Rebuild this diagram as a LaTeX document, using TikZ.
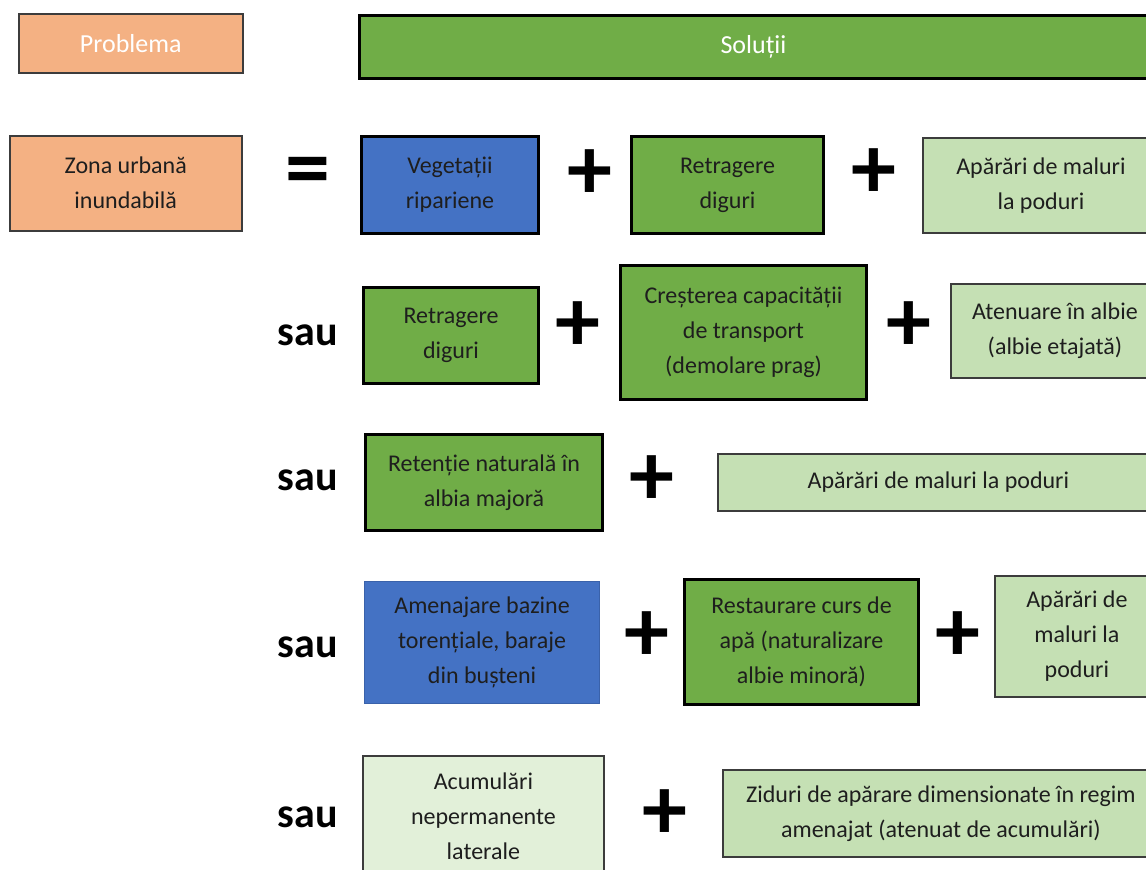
\documentclass[tikz,border=0pt]{standalone}
\usepackage{fontspec}
\setmainfont{Carlito}
\definecolor{orangeF}{HTML}{F4B183}
\definecolor{greenD}{HTML}{70AD47}
\definecolor{blueB}{HTML}{4472C4}
\definecolor{blueE}{HTML}{3A62AA}
\definecolor{greenL}{HTML}{C5E0B4}
\definecolor{greenXL}{HTML}{E2F0D9}
\definecolor{edgeG}{HTML}{3C3C3C}
\definecolor{txt}{HTML}{1E1E1E}
\tikzset{
  box/.style={draw, align=center, inner sep=0pt, anchor=north west,
    font=\fontsize{24}{35}\selectfont, text=txt},
  orangebox/.style={box, fill=orangeF, draw=edgeG, line width=1.5pt},
  headbox/.style={orangebox, font=\fontsize{26}{35}\selectfont},
  darkbox/.style={box, fill=greenD, draw=black, line width=3pt},
  soltitle/.style={darkbox, font=\fontsize{26}{35}\selectfont, text=white},
  bluebox/.style={box, fill=blueB, draw=black, line width=3pt},
  bluethin/.style={box, fill=blueB, draw=blueE, line width=1.2pt},
  lightbox/.style={box, fill=greenL, draw=edgeG, line width=1.8pt},
  palebox/.style={box, fill=greenXL, draw=edgeG, line width=1.8pt},
  opsign/.style={font=\fontsize{90}{90}\bfseries\selectfont, inner sep=0pt, text=black},
  orword/.style={font=\fontsize{42}{42}\bfseries\selectfont, inner sep=0pt, text=black},
}
\begin{document}
\begin{tikzpicture}[x=1pt, y=-1pt]
\useasboundingbox (0,0) rectangle (1146,870);
\clip (0,0) rectangle (1146,870);
% header
\node[headbox, text=white, minimum width=224pt, minimum height=59pt] (prob) at (18,13) {Problema};
\node[soltitle, minimum width=800pt, minimum height=63pt] (sol) at (358,14) {\hspace*{-12pt}Soluții};
% row 1
\node[orangebox, minimum width=232pt, minimum height=95pt] (zona) at (9,135) {Zona urbană\\inundabilă};
\node[opsign] (eq) at (308,177) {=};
\node[bluebox, minimum width=177pt, minimum height=97pt] (veg) at (360,135) {Vegetații\\ripariene};
\node[opsign] (p1) at (590,175) {+};
\node[darkbox, minimum width=192pt, minimum height=97pt] (ret1) at (630,135) {Retragere\\diguri};
\node[opsign] (p2) at (874,174) {+};
\node[lightbox, minimum width=236pt, minimum height=95pt] (apa1) at (922,137) {Apărări de maluri\\la poduri};
% row 2
\node[orword] (sau1) at (308,335) {sau};
\node[darkbox, minimum width=175pt, minimum height=96pt] (ret2) at (362,286) {Retragere\\diguri};
\node[opsign] (p3) at (578,327) {+};
\node[darkbox, minimum width=246pt, minimum height=134pt] (cre) at (619,264) {Creșterea capacității\\de transport\\(demolare prag)};
\node[opsign] (p4) at (909,327) {+};
\node[lightbox, minimum width=208pt, minimum height=94pt] (aten) at (950,283) {Atenuare în albie\\(albie etajată)};
% row 3
\node[orword] (sau2) at (308,480) {sau};
\node[darkbox, minimum width=237pt, minimum height=96pt] (retn) at (364,433) {Retenție naturală în\\albia majoră};
\node[opsign] (p5) at (652,481) {+};
\node[lightbox, minimum width=441pt, minimum height=57pt] (apa2) at (717,453) {Apărări de maluri la poduri};
% row 4
\node[orword] (sau3) at (308,647) {sau};
\node[bluethin, minimum width=235pt, minimum height=122pt] (ame) at (364,581) {Amenajare bazine\\torențiale, baraje\\din bușteni};
\node[opsign] (p6) at (647,637) {+};
\node[darkbox, minimum width=234pt, minimum height=125pt] (res) at (683,578) {Restaurare curs de\\apă (naturalizare\\albie minoră)};
\node[opsign] (p7) at (958,637) {+};
\node[lightbox, minimum width=164pt, minimum height=121pt] (apa3) at (994,575) {Apărări de\\maluri la\\poduri};
% row 5
\node[orword] (sau4) at (308,817) {sau};
\node[palebox, minimum width=241pt, minimum height=120pt] (acu) at (362,755) {Acumulări\\nepermanente\\laterale};
\node[opsign] (p8) at (665,815) {+};
\node[lightbox, minimum width=436pt, minimum height=87pt] (zid) at (722,769) {Ziduri de apărare dimensionate în regim\\amenajat (atenuat de acumulări)};
\end{tikzpicture}
\end{document}
